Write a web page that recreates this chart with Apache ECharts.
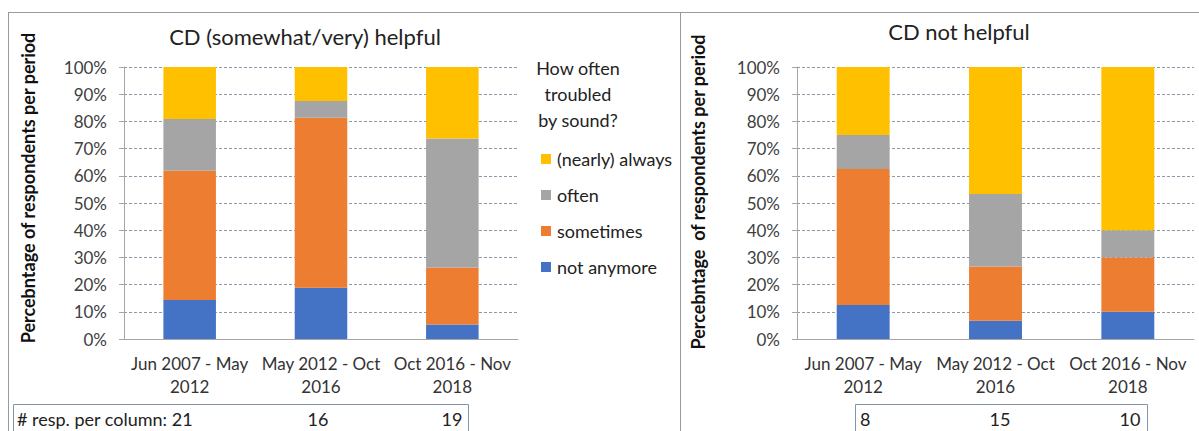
<!DOCTYPE html>
<html>
<head>
<meta charset="utf-8">
<script src="https://cdn.jsdelivr.net/npm/echarts@6/dist/echarts.min.js"></script>
<style>
  html, body { margin: 0; padding: 0; background: #fff; }
  #chart { width: 1199px; height: 431px; }
</style>
</head>
<body>
<div id="chart"></div>
<script>
// periods (x categories)
const periods = ['Jun 2007 - May\n2012', 'May 2012 - Oct\n2016', 'Oct 2016 - Nov\n2018'];
const yTicks = [0, 10, 20, 30, 40, 50, 60, 70, 80, 90, 100];

// CD (somewhat/very) helpful, % per period
const helpfulNotAnymore = [14.3, 18.8, 5.3];
const helpfulSometimes = [47.6, 62.5, 21.0];
const helpfulOften = [19.0, 6.2, 47.4];
const helpfulAlways = [19.1, 12.5, 26.3];
const helpfulCounts = [21, 16, 19];

// CD not helpful, % per period
const notHelpfulNotAnymore = [12.5, 6.7, 10.0];
const notHelpfulSometimes = [50.0, 20.0, 20.0];
const notHelpfulOften = [12.5, 26.6, 10.0];
const notHelpfulAlways = [25.0, 46.7, 60.0];
const notHelpfulCounts = [8, 15, 10];

const FONT = 'Lato';
const colors = {
  'not anymore': '#4472C4',
  'sometimes': '#ED7D31',
  'often': '#A5A5A5',
  '(nearly) always': '#FFC000'
};

function yAxisFor(gridIndex) {
  return {
    type: 'value', gridIndex: gridIndex, min: 0, max: 100, interval: 10,
    axisLine: { show: true, lineStyle: { color: '#a6a6a6' } },
    axisTick: { show: true, length: 5, lineStyle: { color: '#a6a6a6' } },
    axisLabel: { formatter: '{value}%', color: '#404040', fontFamily: FONT, fontSize: 17, margin: 17 },
    splitLine: { lineStyle: { type: [3, 2], color: '#8e9aab' } }
  };
}
function xAxisFor(gridIndex) {
  return {
    type: 'category', gridIndex: gridIndex, data: periods,
    axisLine: { lineStyle: { color: '#a6a6a6' } },
    axisTick: { length: 6, lineStyle: { color: '#a6a6a6' } },
    axisLabel: { color: '#333', fontFamily: FONT, fontSize: 17, lineHeight: 23, margin: 13, interval: 0 }
  };
}
function barsFor(idx, stack, sets) {
  return sets.map(s => ({
    name: s[0], type: 'bar', stack: stack, xAxisIndex: idx, yAxisIndex: idx,
    barWidth: '40%', data: s[1], itemStyle: { color: colors[s[0]] }
  }));
}

const chart = echarts.init(document.getElementById('chart'), null, { renderer: 'svg' });

const txt = (x, y, s, opt) => ({
  type: 'text', x: x, y: y,
  style: Object.assign({ text: s, fill: '#222', font: '18px ' + FONT, textVerticalAlign: 'middle' }, opt || {})
});

const option = {
  animation: false,
  title: [
    { text: 'CD (somewhat/very) helpful', left: 300, top: 20, textAlign: 'center',
      textStyle: { fontFamily: FONT, fontSize: 22, fontWeight: 'normal', color: '#222' } },
    { text: 'CD not helpful', left: 954, top: 15, textAlign: 'center',
      textStyle: { fontFamily: FONT, fontSize: 22, fontWeight: 'normal', color: '#222' } }
  ],
  legend: {
    orient: 'vertical', left: 536, top: 144,
    data: ['(nearly) always', 'often', 'sometimes', 'not anymore'],
    icon: 'rect', itemWidth: 10, itemHeight: 10, itemGap: 16, itemStyle: { borderWidth: 0 },
    textStyle: { fontFamily: FONT, fontSize: 18, color: '#222', lineHeight: 20, padding: [0, 0, 0, 1] }
  },
  grid: [
    { left: 124, top: 67, width: 394, height: 272 },
    { left: 797, top: 67, width: 397, height: 272 }
  ],
  xAxis: [xAxisFor(0), xAxisFor(1)],
  yAxis: [yAxisFor(0), yAxisFor(1)],
  series: [].concat(
    barsFor(0, 'h', [
      ['not anymore', helpfulNotAnymore],
      ['sometimes', helpfulSometimes],
      ['often', helpfulOften],
      ['(nearly) always', helpfulAlways]
    ]),
    barsFor(1, 'n', [
      ['not anymore', notHelpfulNotAnymore],
      ['sometimes', notHelpfulSometimes],
      ['often', notHelpfulOften],
      ['(nearly) always', notHelpfulAlways]
    ])
  ),
  graphic: [
    // frame lines
    { type: 'line', shape: { x1: 8, y1: 12.5, x2: 1199, y2: 12.5 }, style: { stroke: '#9a9a9a', lineWidth: 1 } },
    { type: 'line', shape: { x1: 8.5, y1: 12, x2: 8.5, y2: 431 }, style: { stroke: '#9a9a9a', lineWidth: 1 } },
    { type: 'line', shape: { x1: 680.5, y1: 12, x2: 680.5, y2: 431 }, style: { stroke: '#9a9a9a', lineWidth: 1 } },
    // y axis names
    txt(28, 188, 'Percebntage of respondents per period',
      { font: 'bold 18px ' + FONT, textAlign: 'center', fill: '#111' }),
    txt(698, 192, 'Percebntage  of respondents per period',
      { font: 'bold 18px ' + FONT, textAlign: 'center', fill: '#111' }),
    // legend heading
    txt(578, 94, 'How often\ntroubled\nby sound?',
      { font: '18px ' + FONT, textAlign: 'center', lineHeight: 26 }),
    // respondent count boxes
    { type: 'rect', shape: { x: 13.5, y: 404.5, width: 455, height: 40 }, style: { fill: 'none', stroke: '#8394ab' } },
    { type: 'rect', shape: { x: 855.5, y: 404.5, width: 292, height: 40 }, style: { fill: 'none', stroke: '#8394ab' } },
    txt(17, 419, '# resp. per column: ' + helpfulCounts[0]),
    txt(318, 419, String(helpfulCounts[1]), { textAlign: 'center' }),
    txt(452, 419, String(helpfulCounts[2]), { textAlign: 'center' }),
    txt(860, 419, String(notHelpfulCounts[0])),
    txt(1000, 419, String(notHelpfulCounts[1]), { textAlign: 'center' }),
    txt(1130, 419, String(notHelpfulCounts[2]), { textAlign: 'center' })
  ]
};

// rotate the axis names
option.graphic[3].rotation = Math.PI / 2;
option.graphic[4].rotation = Math.PI / 2;

chart.setOption(option);
</script>
</body>
</html>
